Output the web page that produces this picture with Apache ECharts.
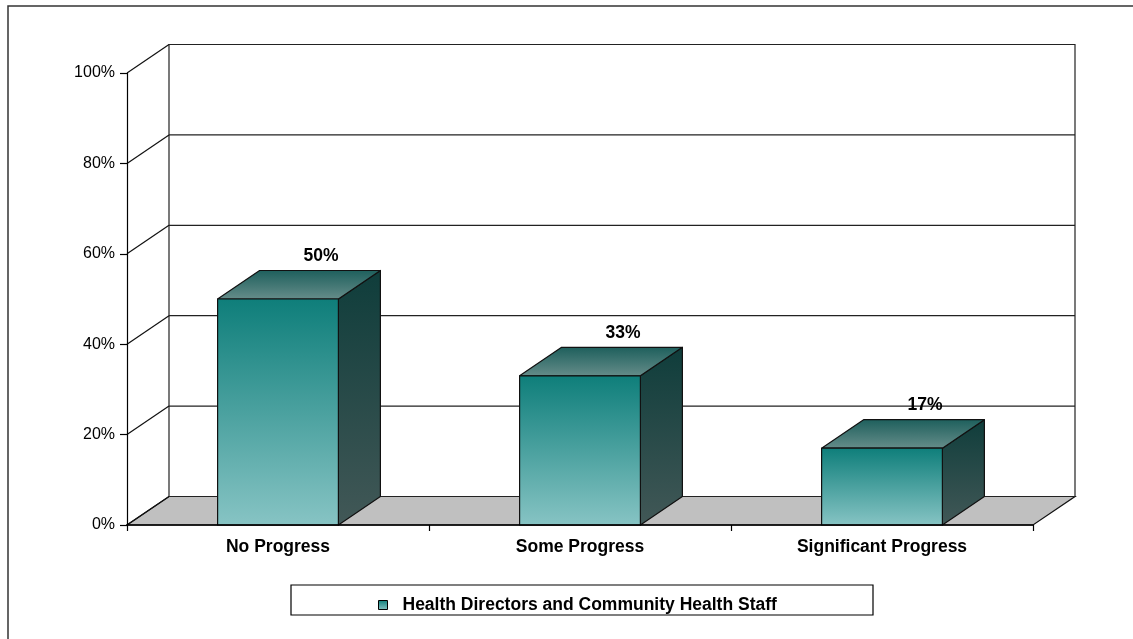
<!DOCTYPE html>
<html>
<head>
<meta charset="utf-8">
<title>Progress chart</title>
<script src="https://cdn.jsdelivr.net/npm/echarts@6/dist/echarts.min.js"></script>
<style>
  html, body { margin: 0; padding: 0; background: #fff; }
  #chart { width: 1133px; height: 639px; }
</style>
</head>
<body>
<div id="chart"></div>
<script>
// Chart data
const categories = ['No Progress', 'Some Progress', 'Significant Progress'];
const values = [50, 33, 17];
const seriesName = 'Health Directors and Community Health Staff';
const gridValues = [0, 20, 40, 60, 80, 100];

// Depth of the 3D box (screen offset of the back plane)
const DX = 42;
const DY = -28.5;
const FONT = '"Liberation Sans", Arial, sans-serif';
const BOLD_SIZE = 17.5;

const frontGrad = new echarts.graphic.LinearGradient(0, 0, 0, 1, [
  { offset: 0, color: '#0e7e7a' },
  { offset: 1, color: '#87c4c4' }
]);
const topGrad = new echarts.graphic.LinearGradient(0, 0, 0, 1, [
  { offset: 0, color: '#1d5f5c' },
  { offset: 1, color: '#668d8a' }
]);
const sideGrad = new echarts.graphic.LinearGradient(0, 0, 0, 1, [
  { offset: 0, color: '#0f3d3b' },
  { offset: 1, color: '#425857' }
]);

// Back wall, floor and gridlines
function renderWalls(params, api) {
  const cs = params.coordSys;
  const y0 = api.coord([0, 0])[1];
  const xl = cs.x, xr = cs.x + cs.width;
  const children = [];
  children.push({
    type: 'rect',
    shape: { x: xl + DX, y: cs.y + DY, width: cs.width, height: cs.height },
    style: { fill: '#fff', stroke: '#222', lineWidth: 1.2 }
  });
  children.push({
    type: 'polygon',
    shape: { points: [[xl, y0], [xr, y0], [xr + DX, y0 + DY], [xl + DX, y0 + DY]] },
    style: { fill: '#c0c0c0', stroke: '#111', lineWidth: 1.2 }
  });
  gridValues.forEach(function (v) {
    const yv = api.coord([0, v])[1];
    children.push({
      type: 'line',
      shape: { x1: xl, y1: yv, x2: xl + DX, y2: yv + DY },
      style: { stroke: '#111', lineWidth: 1.2 }
    });
    children.push({
      type: 'line',
      shape: { x1: xl + DX, y1: yv + DY, x2: xr + DX, y2: yv + DY },
      style: { stroke: '#222', lineWidth: 1.2 }
    });
  });
  return { type: 'group', children: children };
}

// 3D column: front face, top face, side face and value label
function renderBox(params, api) {
  const idx = api.value(0);
  const val = api.value(1);
  const base = api.coord([idx, 0]);
  const top = api.coord([idx, val]);
  const bw = api.size([1, 0])[0] * 0.4;
  const xl = base[0] - bw / 2;
  const xr = base[0] + bw / 2;
  const yt = top[1];
  const yb = base[1];
  const edge = { stroke: '#111', lineWidth: 1.2, lineJoin: 'round' };
  return {
    type: 'group',
    children: [
      {
        type: 'polygon',
        shape: { points: [[xr, yt], [xr + DX, yt + DY], [xr + DX, yb + DY], [xr, yb]] },
        style: Object.assign({ fill: sideGrad }, edge)
      },
      {
        type: 'polygon',
        shape: { points: [[xl, yt], [xl + DX, yt + DY], [xr + DX, yt + DY], [xr, yt]] },
        style: Object.assign({ fill: topGrad }, edge)
      },
      {
        type: 'rect',
        shape: { x: xl, y: yt, width: bw, height: yb - yt },
        style: Object.assign({ fill: frontGrad }, edge)
      },
      {
        type: 'text',
        style: {
          x: base[0] + DX + 1,
          y: yt + DY - 14,
          text: val + '%',
          fill: '#000',
          font: 'bold ' + BOLD_SIZE + 'px ' + FONT,
          align: 'center',
          verticalAlign: 'middle'
        }
      }
    ]
  };
}

const chart = echarts.init(document.getElementById('chart'), null, { renderer: 'canvas' });

chart.setOption({
  animation: false,
  backgroundColor: '#fff',
  grid: { left: 127, right: 100, top: 73, bottom: 114, containLabel: false },
  xAxis: {
    type: 'category',
    data: categories,
    boundaryGap: true,
    axisLine: { show: true, lineStyle: { color: '#000', width: 1.6 } },
    axisTick: { show: true, length: 6, alignWithLabel: false, lineStyle: { color: '#000', width: 1.2 } },
    axisLabel: { margin: 13, color: '#000', fontFamily: FONT, fontWeight: 'bold', fontSize: BOLD_SIZE },
    splitLine: { show: false },
    z: 10
  },
  yAxis: {
    type: 'value',
    min: 0,
    max: 100,
    interval: 20,
    axisLine: { show: true, lineStyle: { color: '#000', width: 1.2 } },
    axisTick: { show: true, length: 7, lineStyle: { color: '#000', width: 1.2 } },
    axisLabel: { margin: 12, color: '#000', fontFamily: FONT, fontSize: 16, formatter: '{value}%' },
    splitLine: { show: false },
    z: 10
  },
  legend: {
    data: [{
      name: seriesName,
      icon: 'rect',
      itemStyle: { color: frontGrad, borderColor: '#000', borderWidth: 1 }
    }],
    left: 373,
    top: 591,
    itemWidth: 9,
    itemHeight: 9,
    textStyle: { color: '#000', fontFamily: FONT, fontWeight: 'bold', fontSize: BOLD_SIZE, padding: [0, 0, 0, 10] },
    selectedMode: false
  },
  graphic: [
    {
      type: 'polyline',
      shape: { points: [[8, 639], [8, 6], [1133, 6]] },
      style: { stroke: '#333', lineWidth: 1.5, fill: null },
      silent: true
    },
    {
      type: 'rect',
      shape: { x: 291, y: 585, width: 582, height: 30 },
      style: { fill: null, stroke: '#000', lineWidth: 1.2 },
      silent: true,
      z: -1
    }
  ],
  series: [
    {
      type: 'custom',
      name: 'walls',
      renderItem: renderWalls,
      data: [[0, 0]],
      silent: true,
      z: 1
    },
    {
      type: 'custom',
      name: seriesName,
      renderItem: renderBox,
      data: values.map(function (v, i) { return [i, v]; }),
      encode: { x: 0, y: 1 },
      itemStyle: { color: '#1a8a86' },
      z: 2
    }
  ]
});
</script>
</body>
</html>
